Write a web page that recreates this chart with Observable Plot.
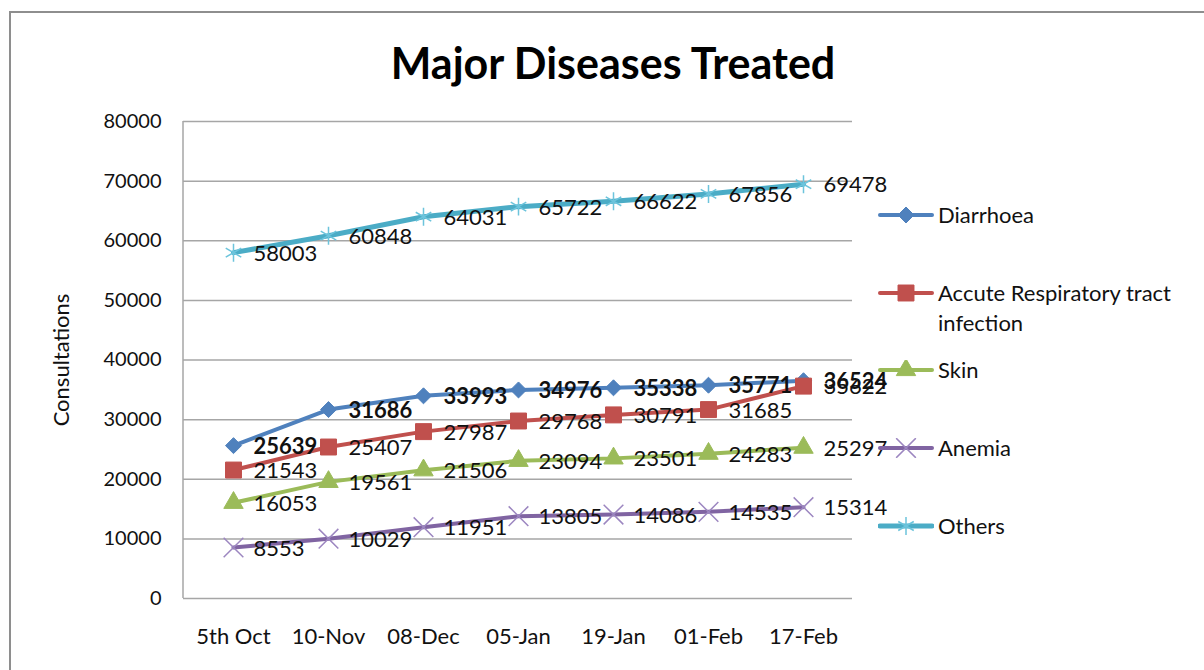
<!DOCTYPE html>
<html>
<head>
<meta charset="utf-8">
<script src="https://cdn.jsdelivr.net/npm/d3@7"></script>
<script src="https://cdn.jsdelivr.net/npm/@observablehq/plot@0.6"></script>
<style>
  html, body { margin: 0; padding: 0; background: #fff; }
  #wrap { position: relative; width: 1204px; height: 670px; overflow: hidden; font-family: Lato, "Open Sans", sans-serif; }
  #border { position: absolute; left: 9px; top: 11px; width: 1300px; height: 800px; border: 2px solid #8e8e8e; box-sizing: border-box; }
  #chart { position: absolute; left: 0; top: 0; }
  #title { position: absolute; left: 0; width: 1226px; top: 41px; text-align: center; font-weight: bold; font-size: 43px; color: #000; line-height: 1; }
  .leg { position: absolute; left: 878px; font-size: 22px; color: #111; line-height: 30px; display: flex; align-items: flex-start; }
  .leg svg { flex: none; margin-top: 5px; margin-right: 4px; }
</style>
</head>
<body>
<div id="wrap">
  <div id="border"></div>
  <div id="chart"></div>
  <div id="title">Major Diseases Treated</div>
  <div id="legend"></div>
</div>
<script>
const dates = ["5th Oct", "10-Nov", "08-Dec", "05-Jan", "19-Jan", "01-Feb", "17-Feb"];
const seriesNames = ["Diarrhoea", "Accute Respiratory tract infection", "Skin", "Anemia", "Others"];
const diarrhoea = [25639, 31686, 33993, 34976, 35338, 35771, 36524];
const ari = [21543, 25407, 27987, 29768, 30791, 31685, 35622];
const skin = [16053, 19561, 21506, 23094, 23501, 24283, 25297];
const anemia = [8553, 10029, 11951, 13805, 14086, 14535, 15314];
const others = [58003, 60848, 64031, 65722, 66622, 67856, 69478];
const yTicks = [0, 10000, 20000, 30000, 40000, 50000, 60000, 70000, 80000];

const colors = ["#4F81BD", "#C0504D", "#9BBB59", "#8064A2", "#4BACC6"];
const values = [diarrhoea, ari, skin, anemia, others];
const styles = [
  {symbol: "diamond2", r: 7.2, fill: colors[0], stroke: colors[0], sw: 1, lw: 4},
  {symbol: "square", r: 9, fill: colors[1], stroke: colors[1], sw: 1, lw: 4},
  {symbol: "triangle", r: 7.2, fill: colors[2], stroke: colors[2], sw: 1, lw: 4},
  {symbol: "times", r: 9, fill: "none", stroke: "#9c86c0", sw: 1.5, lw: 4},
  {symbol: "asterisk", r: 8.5, fill: "none", stroke: "#6cc4dc", sw: 1.5, lw: 5}
];

const marks = [];
marks.push(Plot.ruleY(yTicks, {stroke: "#a6a6a6", strokeWidth: 1.5}));
values.forEach((vals, i) => {
  const data = dates.map((d, j) => ({date: d, value: vals[j]}));
  const s = styles[i];
  marks.push(Plot.line(data, {x: "date", y: "value", stroke: colors[i], strokeWidth: s.lw, curve: "linear"}));
  marks.push(Plot.dot(data, {x: "date", y: "value", symbol: () => s.symbol, r: s.r, fill: s.fill, stroke: s.stroke, strokeWidth: s.sw}));
});
values.forEach((vals, i) => {
  const data = dates.map((d, j) => ({date: d, value: vals[j]}));
  marks.push(Plot.text(data, {
    x: "date", y: "value", text: d => String(d.value), textAnchor: "start", dx: 20, dy: 1,
    fontSize: 22, fontFamily: "Lato, sans-serif", fill: "#111",
    fontWeight: i === 0 ? "bold" : "normal"
  }));
});
marks.push(Plot.axisY({ticks: yTicks, tickSize: 0, tickPadding: 22, tickFormat: d => String(d), fontSize: 20, label: null}));
marks.push(Plot.axisX({tickSize: 0, tickPadding: 30, fontSize: 22, label: null}));
marks.push(Plot.text(["Consultations"], {frameAnchor: "left", textAnchor: "middle", dx: -122, rotate: -90, fontSize: 22, fontFamily: "Lato, sans-serif", fill: "#111"}));

const chart = Plot.plot({
  width: 1204,
  height: 670,
  marginLeft: 183,
  marginRight: 352,
  marginTop: 121,
  marginBottom: 72,
  style: {fontFamily: "Lato, sans-serif", color: "#111", background: "transparent", overflow: "visible"},
  x: {type: "point", domain: dates, padding: 0.5},
  y: {domain: [0, 80000]},
  marks
});
// vertical axis line at left edge of the plot area
const ys = chart.scale("y");
d3.select(chart).append("line")
  .attr("x1", 183).attr("x2", 183)
  .attr("y1", ys.apply(80000)).attr("y2", ys.apply(0))
  .attr("stroke", "#a6a6a6").attr("stroke-width", 1.5);
document.getElementById("chart").appendChild(chart);

// legend
const legTops = [200, 278, 355, 433, 511];
const leg = document.getElementById("legend");
seriesNames.forEach((name, i) => {
  const s = styles[i];
  const div = document.createElement("div");
  div.className = "leg";
  div.style.top = legTops[i] + "px";
  if (i === 1) div.style.width = "320px";
  const svg = d3.create("svg").attr("width", 56).attr("height", 20);
  svg.append("line").attr("x1", 2).attr("x2", 54).attr("y1", 10).attr("y2", 10)
    .attr("stroke", colors[i]).attr("stroke-width", s.lw).attr("stroke-linecap", "round");
  const symMap = {diamond2: d3.symbolDiamond2, square: d3.symbolSquare, triangle: d3.symbolTriangle, times: d3.symbolTimes, asterisk: d3.symbolAsterisk};
  svg.append("path").attr("transform", "translate(28,10)")
    .attr("d", d3.symbol(symMap[s.symbol], Math.PI * s.r * s.r)())
    .attr("fill", s.fill).attr("stroke", s.stroke).attr("stroke-width", s.sw);
  div.appendChild(svg.node());
  const t = document.createElement("span");
  t.textContent = name;
  if (i === 1) t.style.width = "260px";
  div.appendChild(t);
  leg.appendChild(div);
});
</script>
</body>
</html>
